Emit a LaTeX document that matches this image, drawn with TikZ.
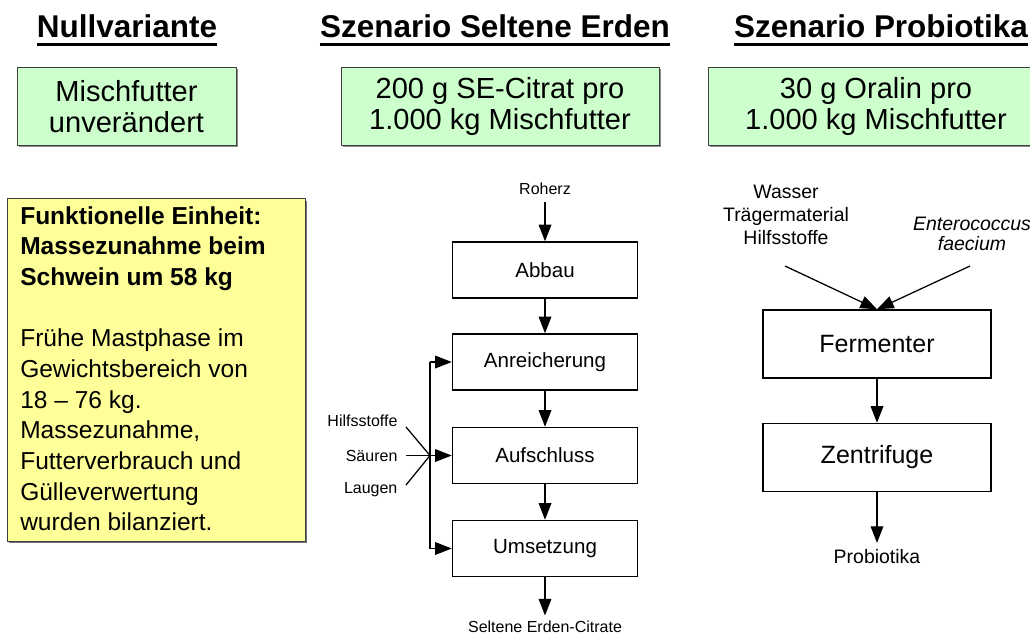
\documentclass[tikz,border=0pt]{standalone}
\usepackage{fontspec}
\setmainfont{Liberation Sans}
\usetikzlibrary{arrows.meta,shadows}
\definecolor{boxgreen}{HTML}{CCFFCC}
\definecolor{boxyellow}{HTML}{FFFF99}
\begin{document}
\begin{tikzpicture}[x=0.75pt,y=-0.75pt,
  heading/.style={font=\fontsize{23.6}{27}\selectfont\bfseries, inner sep=0pt, anchor=base},
  uline/.style={line width=2.3pt},
  greenbox/.style={draw=black!75, line width=0.7pt, fill=boxgreen, align=center,
    minimum height=59pt, font=\fontsize{21.8}{23}\selectfont,
    drop shadow={opacity=1, fill=black!45, shadow xshift=1.2pt, shadow yshift=-1.2pt}},
  yellowbox/.style={draw=black!75, line width=0.7pt, fill=boxyellow,
    drop shadow={opacity=1, fill=black!55, shadow xshift=1.5pt, shadow yshift=-1.5pt}},
  stepbox/.style={draw, line width=1.1pt, minimum width=138.75pt, minimum height=42pt,
    font=\fontsize{15.4}{18}\selectfont},
  bigbox/.style={draw, line width=1.1pt, minimum width=171pt, minimum height=51pt,
    font=\fontsize{18.75}{22}\selectfont},
  smalllabel/.style={font=\fontsize{12}{14}\selectfont, inner sep=1pt},
  midlabel/.style={font=\fontsize{14.6}{17.2}\selectfont, align=center, inner sep=1pt},
  arr/.style={line width=0.95pt, -{Triangle[length=12.5pt,width=9.5pt]}},
  plain/.style={line width=0.95pt}
]
\useasboundingbox (0,0) rectangle (1030,637);

% headings
\node[heading] (h1) at (127,37) {Nullvariante};
\node[heading] (h2) at (495,37) {Szenario Seltene Erden};
\node[heading] (h3) at (881,37) {Szenario Probiotika};
\foreach \h in {h1,h2,h3}{
  \draw[uline] ([yshift=-5.8pt]\h.base west) -- ([yshift=-5.8pt]\h.base east);
}

% green boxes
\node[greenbox, minimum width=164.25pt] (g1) at (126.5,106.5) {Mischfutter\\unverändert};
\node[greenbox, minimum width=238.5pt] (g2) at (500,106.5) {200 g SE-Citrat pro\\1.000 kg Mischfutter};
\node[greenbox, minimum width=252pt] (g3) at (876,106.5) {30 g Oralin pro\\1.000 kg Mischfutter};

% yellow box
\node[yellowbox, minimum width=223.5pt, minimum height=257pt] (y) at (156,370) {};
\node[anchor=north west, inner sep=0pt, align=left, font=\fontsize{18.4}{23}\selectfont] (ytext) at (20,206)
  {\textbf{Funktionelle Einheit:}\\
   \textbf{Massezunahme beim}\\
   \textbf{Schwein um 58 kg}\\[23pt]
   Frühe Mastphase im\\
   Gewichtsbereich von\\
   18 – 76 kg.\\
   Massezunahme,\\
   Futterverbrauch und\\
   Gülleverwertung\\
   wurden bilanziert.};

% middle process chain
\node[smalllabel] (roherz) at (545,189) {Roherz};
\node[stepbox] (abbau) at (545,270) {Abbau};
\node[stepbox] (anr) at (545,362) {Anreicherung};
\node[stepbox] (auf) at (545,455.5) {Aufschluss};
\node[stepbox] (ums) at (545,548.5) {Umsetzung};
\node[smalllabel] (citrate) at (545,627) {Seltene Erden-Citrate};

\draw[arr] ([yshift=-4pt]roherz.south) -- (abbau);
\draw[arr] (abbau) -- (anr);
\draw[arr] (anr) -- (auf);
\draw[arr] (auf) -- (ums);
\draw[arr] (ums) -- ([yshift=3pt]citrate.north);

\node[smalllabel, anchor=east] (hilfs) at (399,421) {Hilfsstoffe};
\node[smalllabel, anchor=east] (saeuren) at (399,455.5) {Säuren};
\node[smalllabel, anchor=east] (laugen) at (399,490) {Laugen};

\coordinate (j) at (430,455.5);
\coordinate (jt) at (430,362);
\coordinate (jb) at (430,548.5);
\coordinate (hs) at (406,427);
\coordinate (ss) at (406,455.5);
\coordinate (ls) at (406,485);

\draw[plain] (jt) -- (jb);
\draw[arr] (jt) -- (anr.west);
\draw[arr] (jb) -- (ums.west);
\draw[arr] (j) -- (auf.west);
\draw[plain] (hs) -- (j);
\draw[plain] (ss) -- (j);
\draw[plain] (ls) -- (j);

% right process chain
\node[midlabel] (inputs) at (786,215) {Wasser\\Trägermaterial\\Hilfsstoffe};
\node[midlabel, font=\fontsize{14.6}{15}\selectfont\itshape] (entero) at (972,234) {Enterococcus\\faecium};
\node[bigbox] (ferm) at (877,344) {Fermenter};
\node[bigbox] (zent) at (877,457.5) {Zentrifuge};
\node[midlabel] (prob) at (877,557) {Probiotika};

\coordinate (in1) at (785,266);
\coordinate (in2) at (970,266);
\draw[arr] (in1) -- (ferm.north);
\draw[arr] (in2) -- (ferm.north);
\draw[arr] (ferm) -- (zent);
\draw[arr] (zent) -- ([yshift=4pt]prob.north);
\end{tikzpicture}
\end{document}
